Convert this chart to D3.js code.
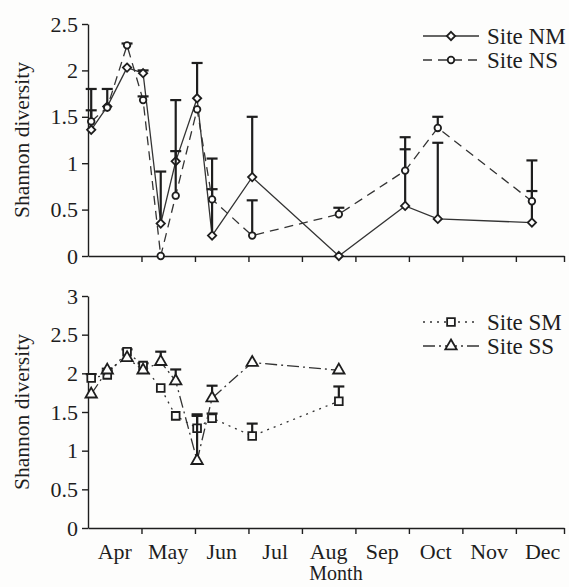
<!DOCTYPE html>
<html>
<head>
<meta charset="utf-8">
<script src="https://cdn.jsdelivr.net/npm/d3@7/dist/d3.min.js"></script>
<style>
  html, body { margin: 0; padding: 0; background: #fdfdfc; }
  svg { display: block; }
</style>
</head>
<body>
<script>
// Month labels along the shared time axis (months counted from 1 April)
const months = ["Apr", "May", "Jun", "Jul", "Aug", "Sep", "Oct", "Nov", "Dec"];

// Sampling times, in months since 1 April
const sampleTimes = [0.06, 0.36, 0.73, 1.03, 1.36, 1.64, 2.04, 2.32, 3.07, 4.69, 5.93, 6.54, 8.30];

// Northern sites (upper panel)
const siteNM    = [1.36, 1.61, 2.03, 1.97, 0.35, 1.02, 1.70, 0.22, 0.85, 0.00, 0.54, 0.40, 0.36];
const siteNMErr = [0.21, 0.19, 0.00, 0.03, 0.56, 0.66, 0.38, 0.50, 0.65, 0.00, 0.74, 0.82, 0.67];
const siteNS    = [1.45, 1.60, 2.27, 1.68, 0.00, 0.65, 1.58, 0.61, 0.22, 0.45, 0.92, 1.38, 0.59];
const siteNSErr = [0.35, 0.00, 0.02, 0.04, 0.00, 0.48, 0.00, 0.44, 0.38, 0.07, 0.23, 0.12, 0.11];

// Southern sites (lower panel), sampled through August
const siteSM    = [1.94, 1.98, 2.28, 2.10, 1.81, 1.45, 1.29, 1.42, 1.19, 1.64];
const siteSMErr = [0.05, 0.05, 0.03, 0.03, 0.00, 0.00, 0.18, 0.06, 0.16, 0.19];
const siteSS    = [1.73, 2.04, 2.20, 2.04, 2.15, 1.90, 0.87, 1.68, 2.14, 2.04];
const siteSSErr = [0.00, 0.02, 0.00, 0.00, 0.13, 0.15, 0.58, 0.16, 0.00, 0.00];

// Y-axis ticks per panel
const topTicks = [0, 0.5, 1, 1.5, 2, 2.5];
const bottomTicks = [0, 0.5, 1, 1.5, 2, 2.5, 3];

const W = 569, H = 587;
const ink = "#1e1e1e";
const paper = "#fdfdfc";
const serif = "Liberation Serif";

const svg = d3.select("body").append("svg")
  .attr("width", W).attr("height", H);

const x = d3.scaleLinear().domain([0, 8.9]).range([88, 564]);
const yTop = d3.scaleLinear().domain([0, 2.5]).range([256, 24]);
const yBot = d3.scaleLinear().domain([0, 3]).range([528, 296]);

// Marker shapes (small open symbols)
const sym = {
  diamond: d3.symbol().type(d3.symbolDiamond2).size(44),
  circle: d3.symbol().type(d3.symbolCircle).size(34),
  square: d3.symbol().type(d3.symbolSquare).size(60),
  triangle: d3.symbol().type(d3.symbolTriangle).size(56)
};

function styleText(sel, size) {
  sel.style("font-family", serif).style("font-size", size + "px").attr("fill", ink);
}

function drawPanel(y, ticks, showLabels) {
  const g = svg.append("g");
  const ya = g.append("g").attr("transform", `translate(${x.range()[0]},0)`)
    .call(d3.axisLeft(y).tickValues(ticks).tickFormat(d3.format("~g")).tickSize(6).tickSizeOuter(0).tickPadding(4));
  // Month boundaries on the time axis, plus a closing tick at the right end
  const xa = g.append("g").attr("transform", `translate(0,${y.range()[0]})`)
    .call(d3.axisBottom(x).tickValues(d3.range(1, 9).concat([x.domain()[1]])).tickSize(6).tickSizeOuter(0).tickFormat(""));
  [ya, xa].forEach(a => {
    a.selectAll("path, line").attr("stroke", ink).attr("stroke-width", 1.4);
    styleText(a.selectAll("text"), 22);
  });
  if (showLabels) {
    const lab = g.selectAll("text.month").data(months).join("text")
      .attr("class", "month")
      .attr("x", (d, i) => x(i + 0.5))
      .attr("y", y.range()[0] + 31)
      .attr("text-anchor", "middle")
      .text(d => d);
    styleText(lab, 22);
  }
  const mid = (y.range()[0] + y.range()[1]) / 2;
  const t = g.append("text")
    .attr("transform", `translate(29,${mid}) rotate(-90)`)
    .attr("text-anchor", "middle")
    .text("Shannon diversity");
  styleText(t, 21.5);
  return g;
}

function drawSeries(g, y, vals, errs, dash, shape) {
  const pts = vals.map((v, i) => ({ t: sampleTimes[i], v, e: errs[i] }));
  const line = d3.line().x(d => x(d.t)).y(d => y(d.v));
  g.append("path").datum(pts)
    .attr("d", line)
    .attr("fill", "none")
    .attr("stroke", "#333")
    .attr("stroke-width", 1.3)
    .attr("stroke-dasharray", dash);
  // Upper error bars with caps
  const eb = g.append("g").attr("stroke", ink).attr("stroke-width", 2.2);
  pts.filter(d => d.e > 0).forEach(d => {
    eb.append("line").attr("x1", x(d.t)).attr("x2", x(d.t)).attr("y1", y(d.v)).attr("y2", y(d.v + d.e));
    eb.append("line").attr("x1", x(d.t) - 5.5).attr("x2", x(d.t) + 5.5).attr("y1", y(d.v + d.e)).attr("y2", y(d.v + d.e));
  });
  g.append("g").selectAll("path").data(pts).join("path")
    .attr("transform", d => `translate(${x(d.t)},${y(d.v)})`)
    .attr("d", sym[shape]())
    .attr("fill", paper)
    .attr("stroke", ink)
    .attr("stroke-width", 1.8);
}

function legendRow(y0, label, dash, shape) {
  const g = svg.append("g");
  g.append("line").attr("x1", 423).attr("x2", 479).attr("y1", y0).attr("y2", y0)
    .attr("stroke", "#333").attr("stroke-width", 1.3).attr("stroke-dasharray", dash);
  g.append("path").attr("transform", `translate(451,${y0})`).attr("d", sym[shape]())
    .attr("fill", paper).attr("stroke", ink).attr("stroke-width", 1.8);
  const t = g.append("text").attr("x", 487).attr("y", y0).attr("dy", "0.35em").text(label);
  styleText(t, 23);
}

const northPanel = drawPanel(yTop, topTicks, false);
drawSeries(northPanel, yTop, siteNM, siteNMErr, null, "diamond");
drawSeries(northPanel, yTop, siteNS, siteNSErr, "9,6", "circle");

const southPanel = drawPanel(yBot, bottomTicks, true);
drawSeries(southPanel, yBot, siteSM, siteSMErr, "2,5", "square");
drawSeries(southPanel, yBot, siteSS, siteSSErr, "12,4,2,4", "triangle");

legendRow(36, "Site NM", null, "diamond");
legendRow(60, "Site NS", "9,6", "circle");
legendRow(322, "Site SM", "2,5", "square");
legendRow(346, "Site SS", "12,4,2,4", "triangle");

styleText(svg.append("text").attr("x", 336).attr("y", 580).attr("text-anchor", "middle").text("Month"), 20);
</script>
</body>
</html>
